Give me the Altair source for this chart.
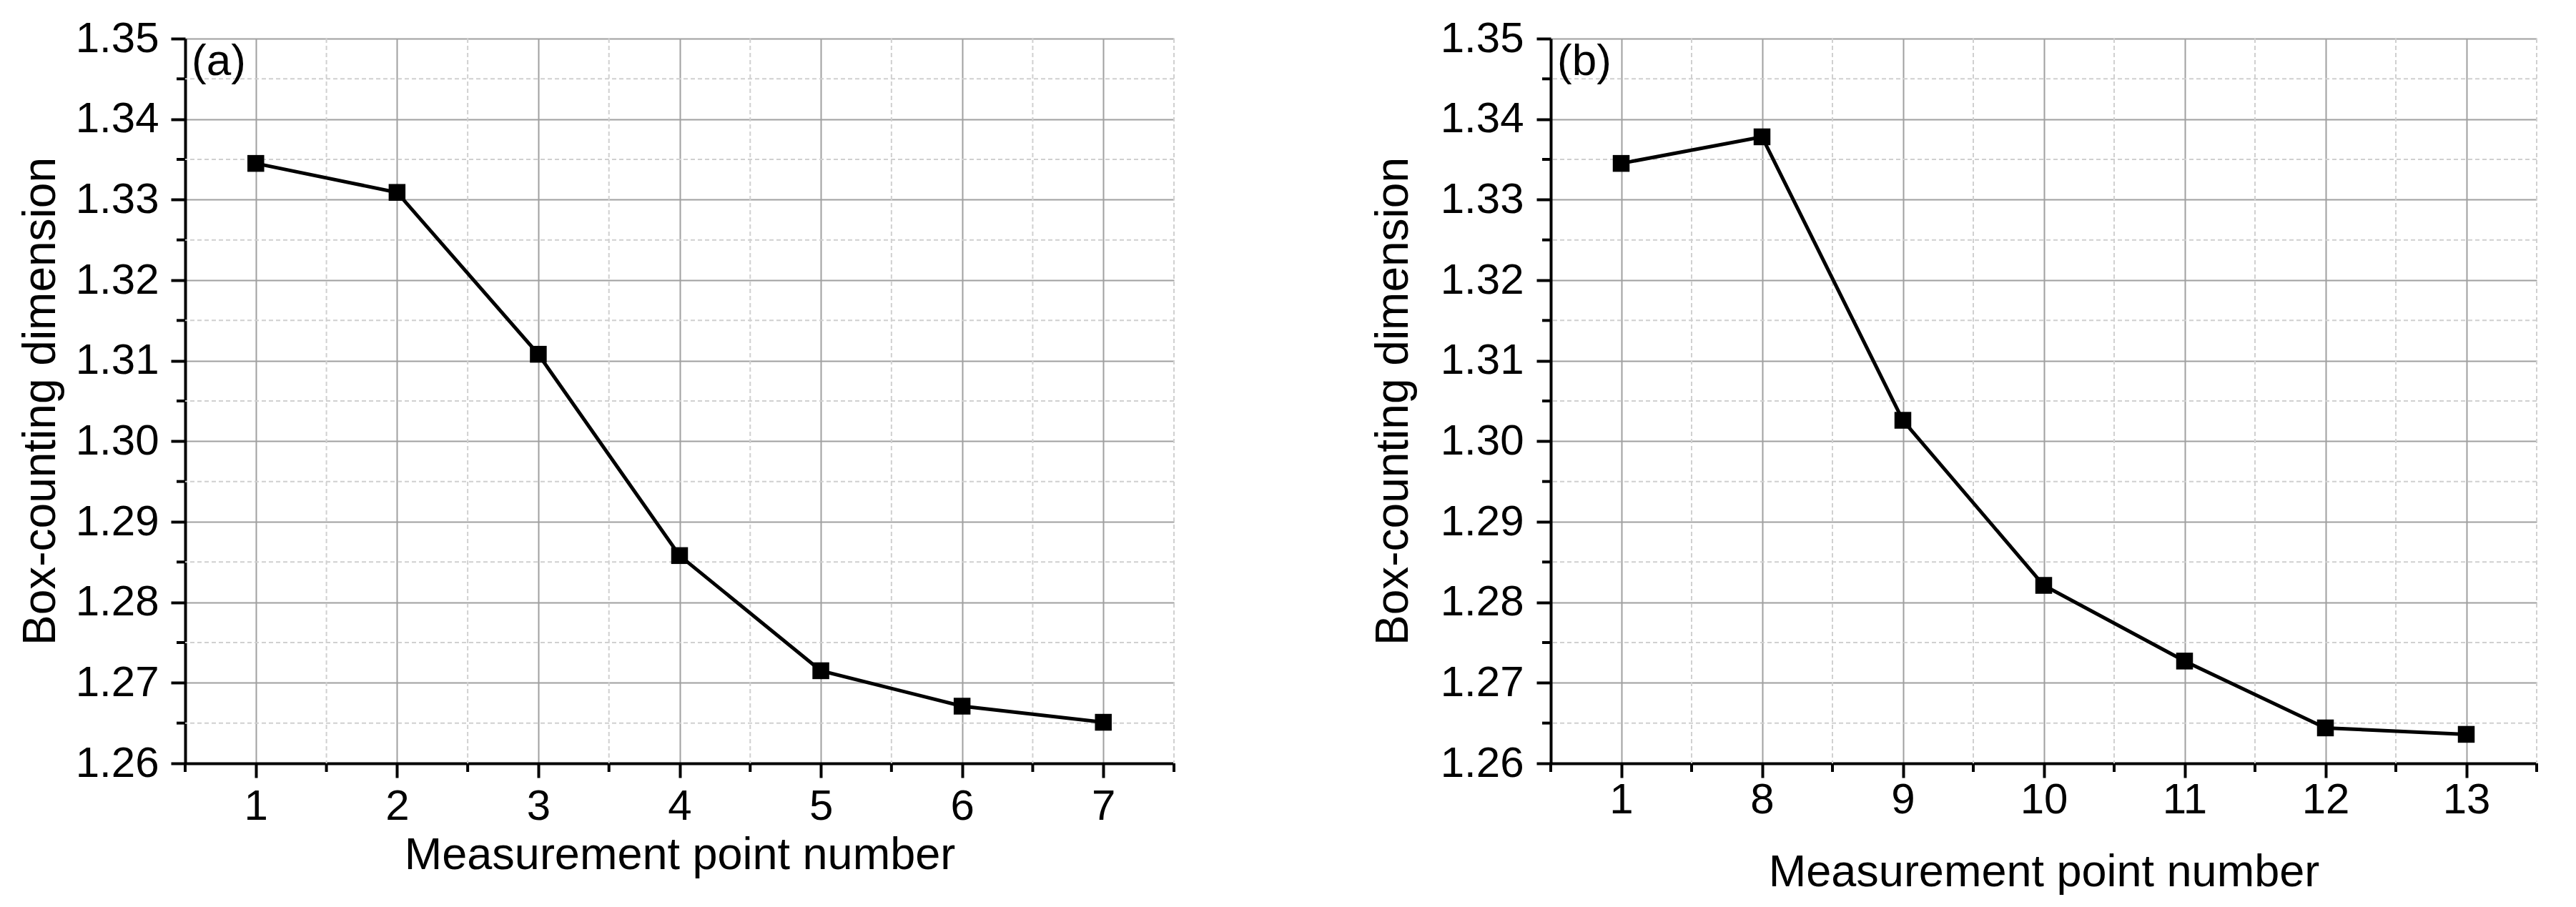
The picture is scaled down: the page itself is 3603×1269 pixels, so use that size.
import json
import altair as alt
import pandas as pd

# ---- data ----
points_a = [1, 2, 3, 4, 5, 6, 7]
dims_a = [1.3345, 1.3309, 1.3108, 1.2858, 1.2715, 1.2671, 1.2651]

labels_b = ["1", "8", "9", "10", "11", "12", "13"]
dims_b = [1.3345, 1.3378, 1.3026, 1.2821, 1.2727, 1.2644, 1.2636]

y_major = [1.26, 1.27, 1.28, 1.29, 1.30, 1.31, 1.32, 1.33, 1.34, 1.35]
y_minor = [1.265, 1.275, 1.285, 1.295, 1.305, 1.315, 1.325, 1.335, 1.345]
x_major = [1, 2, 3, 4, 5, 6, 7]
x_minor = [0.5, 1.5, 2.5, 3.5, 4.5, 5.5, 6.5, 7.5]

x_title = "Measurement point number"
y_title = "Box-counting dimension"
tags = ["(a)", "(b)"]

FONT = "Liberation Sans"
H = 1014


def panel(xs, ys, tag, width, label_expr, ylabpad, xlabpad, ytitle_x, xtitle_y):
    xscale = alt.Scale(domain=[0.5, 7.5], nice=False, zero=False)
    yscale = alt.Scale(domain=[1.26, 1.35], nice=False, zero=False)
    df = pd.DataFrame({"x": xs, "y": ys})

    xaxis_kw = dict(
        values=x_major, format="d", title=x_title,
        labelFont=FONT, labelFontSize=60, labelColor="black", labelPadding=xlabpad,
        labelFlush=False, labelOverlap=False,
        tickSize=20, tickWidth=4, tickColor="black",
        domainWidth=4, domainColor="black",
        grid=True, gridColor="#a0a0a0", gridWidth=2,
        titleFont=FONT, titleFontSize=63, titleFontWeight="normal", titleColor="black",
        titleBaseline="alphabetic", titleY=xtitle_y, titleX=width / 2, titleAlign="center",
    )
    if label_expr:
        xaxis_kw["labelExpr"] = label_expr
    xaxis = alt.Axis(**xaxis_kw)
    yaxis = alt.Axis(
        values=y_major, format=".2f", title=y_title,
        labelFont=FONT, labelFontSize=60, labelColor="black", labelPadding=ylabpad,
        labelFlush=False, labelOverlap=False,
        tickSize=20, tickWidth=4, tickColor="black",
        domainWidth=4, domainColor="black",
        grid=True, gridColor="#a0a0a0", gridWidth=2,
        titleFont=FONT, titleFontSize=64, titleFontWeight="normal", titleColor="black",
        titleBaseline="alphabetic", titleX=ytitle_x, titleY=H / 2, titleAlign="center",
        titleAngle=270,
    )

    def X(field):
        return alt.X(field, type="quantitative", scale=xscale, axis=xaxis)

    def Y(field):
        return alt.Y(field, type="quantitative", scale=yscale, axis=yaxis)

    gx = alt.Chart(pd.DataFrame({"v": x_minor[1:]})).mark_rule(
        color="#d0d0d0", strokeWidth=2, strokeDash=[6, 4]
    ).encode(x=X("v"))
    gy = alt.Chart(pd.DataFrame({"v": y_minor})).mark_rule(
        color="#d0d0d0", strokeWidth=2, strokeDash=[6, 4]
    ).encode(y=Y("v"))

    line = alt.Chart(df).mark_line(color="black", strokeWidth=5).encode(
        x=X("x"), y=Y("y"),
    )
    pts = alt.Chart(df).mark_point(
        shape="square", filled=True, size=552, color="black", opacity=1
    ).encode(x=X("x"), y=Y("y"))

    tx = alt.Chart(pd.DataFrame({"v": x_minor})).mark_rule(
        color="black", strokeWidth=4
    ).encode(x=X("v"), y=alt.value(H), y2=alt.value(H + 12))
    ty = alt.Chart(pd.DataFrame({"v": y_minor})).mark_rule(
        color="black", strokeWidth=4
    ).encode(y=Y("v"), x=alt.value(-12), x2=alt.value(0))
    lab = alt.Chart(pd.DataFrame({"t": [tag]})).mark_text(
        align="left", baseline="top", fontSize=62, font=FONT, color="black"
    ).encode(text="t:N", x=alt.value(9), y=alt.value(2))

    return alt.layer(gx, gy, line, pts, tx, ty, lab).properties(width=width, height=H)


pa = panel(points_a, dims_a, tags[0], 1383, None, 17, 11, -183, 147)
pb = panel(points_a, dims_b, tags[1], 1379,
           json.dumps(labels_b) + "[datum.value - 1]", 18, 2, -201, 171)

chart = alt.hconcat(pa, pb, spacing=273).properties(
    padding={"left": 16, "top": 16, "right": 5, "bottom": 0},
    background="white",
).configure_view(stroke=None)

chart.save("out.html", embed_options={"renderer": "svg", "actions": False})
